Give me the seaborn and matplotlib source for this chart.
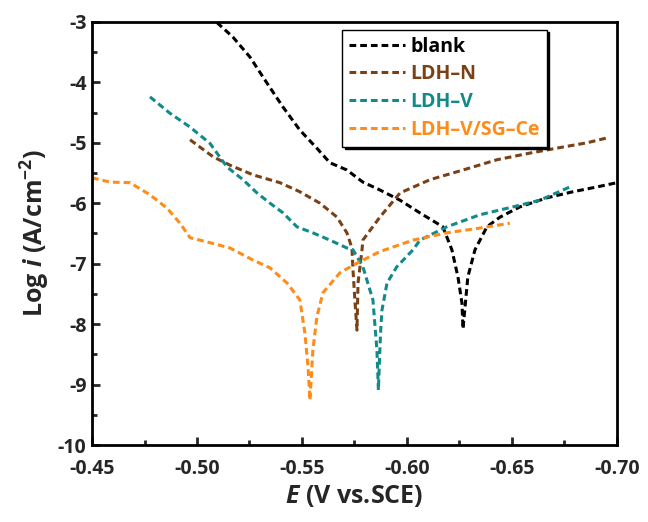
import numpy as np
import pandas as pd
import seaborn as sns
import matplotlib
matplotlib.use("Agg")
from matplotlib import pyplot as plt
from matplotlib.ticker import MultipleLocator, FormatStrFormatter

# Tafel curves (E in V vs. SCE, log i in A/cm^2)
blank_E = [-0.5095, -0.5171, -0.5252, -0.5333, -0.5410, -0.5490, -0.5571, -0.5633,
           -0.5714, -0.5790, -0.5871, -0.5967, -0.6062, -0.6171, -0.6214, -0.6243,
           -0.6262, -0.6267, -0.6290, -0.6324, -0.6381, -0.6443, -0.6538, -0.6667,
           -0.6790, -0.6905, -0.7000]
blank_logi = [-3.01, -3.25, -3.58, -4.01, -4.41, -4.79, -5.09, -5.33,
              -5.45, -5.65, -5.78, -5.95, -6.16, -6.39, -6.77, -7.22,
              -7.65, -8.08, -7.22, -6.77, -6.39, -6.23, -6.06, -5.91,
              -5.81, -5.73, -5.66]

ldhn_E = [-0.4967, -0.5076, -0.5157, -0.5267, -0.5395, -0.5490, -0.5586, -0.5667,
          -0.5714, -0.5738, -0.5743, -0.5752, -0.5762, -0.5767, -0.5786, -0.5790,
          -0.5871, -0.5967, -0.6110, -0.6267, -0.6429, -0.6586, -0.6743, -0.6857,
          -0.6952]
ldhn_logi = [-4.95, -5.23, -5.37, -5.53, -5.66, -5.81, -6.00, -6.23,
             -6.49, -6.74, -7.10, -7.60, -8.10, -7.32, -6.77, -6.61,
             -6.23, -5.83, -5.61, -5.45, -5.28, -5.17, -5.07, -5.00,
             -4.92]

ldhv_E = [-0.4776, -0.4871, -0.4967, -0.5062, -0.5143, -0.5219, -0.5286, -0.5348,
          -0.5410, -0.5476, -0.5552, -0.5633, -0.5714, -0.5743, -0.5790, -0.5838,
          -0.5857, -0.5864, -0.5871, -0.5875, -0.5881, -0.5905, -0.5952, -0.6029,
          -0.6062, -0.6190, -0.6348, -0.6505, -0.6633, -0.6776]
ldhv_logi = [-4.24, -4.51, -4.74, -5.01, -5.40, -5.61, -5.83, -6.00,
             -6.16, -6.39, -6.49, -6.61, -6.74, -6.77, -7.05, -7.60,
             -8.43, -9.09, -8.43, -8.10, -7.77, -7.32, -7.05, -6.77,
             -6.61, -6.39, -6.19, -6.06, -5.95, -5.73]

sgce_E = [-0.4500, -0.4586, -0.4681, -0.4776, -0.4857, -0.4919, -0.4967, -0.5048,
          -0.5157, -0.5267, -0.5348, -0.5429, -0.5490, -0.5514, -0.5529, -0.5538,
          -0.5552, -0.5571, -0.5600, -0.5681, -0.5762, -0.5871, -0.6029, -0.6190,
          -0.6348, -0.6490]
sgce_logi = [-5.58, -5.65, -5.66, -5.86, -6.08, -6.33, -6.57, -6.64,
             -6.74, -6.94, -7.07, -7.32, -7.60, -8.15, -8.71, -9.26,
             -8.43, -7.88, -7.48, -7.15, -6.99, -6.80, -6.61, -6.49,
             -6.41, -6.33]

samples = ["blank", "LDH\u2013N", "LDH\u2013V", "LDH\u2013V/SG\u2013Ce"]
colors = ["#000000", "#7a4116", "#138a8a", "#ff8c1a"]

frames = []
for name, e, li in zip(samples, [blank_E, ldhn_E, ldhv_E, sgce_E],
                       [blank_logi, ldhn_logi, ldhv_logi, sgce_logi]):
    frames.append(pd.DataFrame({"E": e, "logi": li, "sample": name}))
df = pd.concat(frames, ignore_index=True)

sns.set_theme(style="white")
plt.rcParams["font.family"] = ["Open Sans", "DejaVu Sans"]
plt.rcParams["font.weight"] = "bold"
plt.rcParams["axes.unicode_minus"] = False
plt.rcParams["mathtext.fontset"] = "custom"
plt.rcParams["mathtext.rm"] = "Open Sans:bold"
plt.rcParams["mathtext.it"] = "Open Sans:italic:bold"
plt.rcParams["mathtext.bf"] = "Open Sans:bold"

fig = plt.figure(figsize=(6.48, 5.22), dpi=100)
ax = fig.add_axes([0.142, 0.1475, 0.810, 0.8105])

sns.lineplot(
    data=df, x="E", y="logi", hue="sample", style="sample",
    hue_order=samples, style_order=samples,
    palette=dict(zip(samples, colors)),
    dashes={s: (2.2, 1.3) for s in samples},
    sort=False, estimator=None, lw=2.2, legend=False, ax=ax,
)

ax.set_xlim(-0.45, -0.70)
ax.set_ylim(-10, -3)
ax.xaxis.set_major_locator(MultipleLocator(0.05))
ax.xaxis.set_minor_locator(MultipleLocator(0.025))
ax.yaxis.set_major_locator(MultipleLocator(1))
ax.yaxis.set_minor_locator(MultipleLocator(0.5))
ax.xaxis.set_major_formatter(FormatStrFormatter("%.2f"))
ax.yaxis.set_major_formatter(FormatStrFormatter("%d"))
ax.tick_params(which="both", direction="in", width=2, labelsize=14,
               top=False, right=False, bottom=True, left=True)
ax.tick_params(which="major", length=6)
ax.tick_params(which="minor", length=3.5)
ax.tick_params(axis="x", which="major", pad=10)
ax.tick_params(axis="y", which="major", pad=4)
for lab in ax.get_xticklabels() + ax.get_yticklabels():
    lab.set_fontweight("bold")
for sp in ax.spines.values():
    sp.set_linewidth(2)
    sp.set_color("black")

ax.set_xlabel(r"$E$ (V vs.SCE)", fontsize=18, fontweight="bold", labelpad=3)
ax.set_ylabel(r"Log $i$ (A/cm$^{-2}$)", fontsize=18, fontweight="bold", labelpad=4)

leg = ax.legend(
    handles=ax.get_lines()[:4], labels=samples,
    loc="upper left", bbox_to_anchor=(0.462, 1.0),
    labelcolor="linecolor", handlelength=2.9,
    handletextpad=0.25, borderpad=0.35, labelspacing=0.4,
    borderaxespad=0.4,
    frameon=True, fancybox=False, edgecolor="black",
    shadow={"color": "black", "alpha": 1.0},
    prop={"weight": "bold", "size": 14},
)
leg.get_frame().set_linewidth(1.0)

fig.savefig("out.png", dpi=100)
